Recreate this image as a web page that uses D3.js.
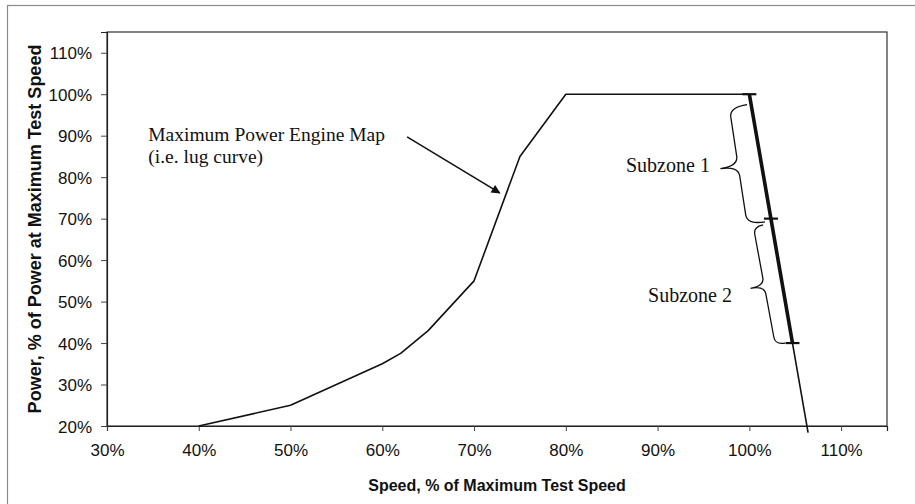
<!DOCTYPE html>
<html>
<head>
<meta charset="utf-8">
<script src="https://cdnjs.cloudflare.com/ajax/libs/d3/7.8.5/d3.min.js"></script>
<style>
body { margin: 0; background: #fff; }
.tick text { font-family: "Liberation Sans", Arial, sans-serif; font-size: 17px; fill: #111; }
.note { font-family: "Liberation Serif", "Times New Roman", serif; font-size: 20px; fill: #111; }
.title { font-family: "Liberation Sans", Arial, sans-serif; font-size: 16px; font-weight: bold; fill: #111; }
</style>
</head>
<body>
<div id="chart"></div>
<script>
// lug curve (maximum power engine map)
var lugSpeed = [40, 50, 60, 62, 65, 70, 75, 80, 100];
var lugPower = [20, 25, 35, 37.5, 43, 55, 85, 100, 100];

// governor line past 100% speed
var govSpeed = [100, 102.35, 104.7, 106.4];
var govPower = [100, 70, 40, 18.4];

// subzones: brace ends and label spots
var zoneNames = ['Subzone 1', 'Subzone 2'];
var braceTop = [[99.75, 97.5], [101.5, 68.5]];
var braceBottom = [[101.7, 69.2], [103.9, 40]];
var zoneLabelPos = [[95.7, 81.3], [98.1, 49.9]];

var xTicks = [30, 40, 50, 60, 70, 80, 90, 100, 110];
var yTicks = [20, 30, 40, 50, 60, 70, 80, 90, 100, 110];

var W = 915, H = 504;
var margin = {top: 32, right: 28, bottom: 78, left: 107};

var svg = d3.select('#chart').append('svg')
    .attr('width', W)
    .attr('height', H);

// outer frame of the chart
svg.append('rect')
    .attr('x', 7.5).attr('y', 5.5)
    .attr('width', W).attr('height', H)
    .attr('fill', 'none')
    .attr('stroke', '#8a8a8a')
    .attr('stroke-width', 1.2);

var x = d3.scaleLinear().domain([30, 115]).range([margin.left, W - margin.right]);
var y = d3.scaleLinear().domain([20, 115]).range([H - margin.bottom, margin.top]);
var pct = function(d) { return d + '%'; };

// plot area
svg.append('rect')
    .attr('x', x(30)).attr('y', y(115))
    .attr('width', x(115) - x(30)).attr('height', y(20) - y(115))
    .attr('fill', 'none')
    .attr('stroke', '#333')
    .attr('stroke-width', 1.2);

var gx = svg.append('g')
    .attr('transform', 'translate(0,' + y(20) + ')')
    .call(d3.axisBottom(x).tickValues(xTicks).tickFormat(pct).tickSize(5).tickPadding(13));
var gy = svg.append('g')
    .attr('transform', 'translate(' + x(30) + ',0)')
    .call(d3.axisLeft(y).tickValues(yTicks).tickFormat(pct).tickSize(6).tickPadding(9));
[gx, gy].forEach(function(g) {
    g.select('.domain').attr('stroke', '#222').attr('stroke-width', 1.2);
    g.selectAll('.tick line').attr('stroke', '#444');
});
gy.selectAll('.tick text').attr('dy', '0.36em');

// axis titles
svg.append('text')
    .attr('class', 'title')
    .attr('x', (x(30) + x(115)) / 2)
    .attr('y', 491)
    .attr('text-anchor', 'middle')
    .text('Speed, % of Maximum Test Speed');

svg.append('text')
    .attr('class', 'title')
    .style('font-size', '18px')
    .attr('transform', 'translate(41,' + (y(20) + y(115)) / 2 + ') rotate(-90)')
    .attr('text-anchor', 'middle')
    .text('Power, % of Power at Maximum Test Speed');

var line = d3.line()
    .x(function(d) { return x(d[0]); })
    .y(function(d) { return y(d[1]); });

var lug = d3.zip(lugSpeed, lugPower);
var gov = d3.zip(govSpeed, govPower);

svg.append('path')
    .datum(lug)
    .attr('d', line)
    .attr('fill', 'none')
    .attr('stroke', '#111')
    .attr('stroke-width', 1.6)
    .attr('stroke-linejoin', 'round');

// thin governor line all the way down
svg.append('path')
    .datum(gov)
    .attr('d', line)
    .attr('fill', 'none')
    .attr('stroke', '#111')
    .attr('stroke-width', 1.6);

// thick part over the two subzones
svg.append('path')
    .datum(gov.slice(0, 3))
    .attr('d', line)
    .attr('fill', 'none')
    .attr('stroke', '#111')
    .attr('stroke-width', 3.6);

// small marks at the zone limits
svg.selectAll('.zoneMark')
    .data(gov.slice(0, 3))
    .enter()
    .append('line')
    .attr('class', 'zoneMark')
    .attr('x1', function(d) { return x(d[0]) - 7; })
    .attr('x2', function(d) { return x(d[0]) + 7; })
    .attr('y1', function(d) { return y(d[1]); })
    .attr('y2', function(d) { return y(d[1]); })
    .attr('stroke', '#111')
    .attr('stroke-width', 2.2);

// curly braces
function brace(p0, p1, a, t, r) {
    var dx = p1[0] - p0[0], dy = p1[1] - p0[1];
    var L = Math.sqrt(dx * dx + dy * dy);
    var ux = dx / L, uy = dy / L;
    var nx = -uy, ny = ux;
    function pt(u, v) {
        return (p0[0] + u * ux + v * nx).toFixed(1) + ',' + (p0[1] + u * uy + v * ny).toFixed(1);
    }
    var m = L / 2;
    return 'M' + pt(0, 0) +
        'Q' + pt(0, a) + ' ' + pt(r, a) +
        'L' + pt(m - r, a) +
        'Q' + pt(m, a) + ' ' + pt(m, a + t) +
        'Q' + pt(m, a) + ' ' + pt(m + r, a) +
        'L' + pt(L - r, a) +
        'Q' + pt(L, a) + ' ' + pt(L, 0);
}

var braceSize = [[18, 18, 10], [10, 14, 8]];
svg.selectAll('.brace')
    .data(zoneNames)
    .enter()
    .append('path')
    .attr('class', 'brace')
    .attr('d', function(d, i) {
        var p0 = [x(braceTop[i][0]), y(braceTop[i][1])];
        var p1 = [x(braceBottom[i][0]), y(braceBottom[i][1])];
        return brace(p0, p1, braceSize[i][0], braceSize[i][1], braceSize[i][2]);
    })
    .attr('fill', 'none')
    .attr('stroke', '#111')
    .attr('stroke-width', 1.3);

svg.selectAll('.zoneLabel')
    .data(zoneNames)
    .enter()
    .append('text')
    .attr('class', 'note')
    .attr('x', function(d, i) { return x(zoneLabelPos[i][0]); })
    .attr('y', function(d, i) { return y(zoneLabelPos[i][1]); })
    .attr('text-anchor', 'end')
    .text(function(d) { return d; });

// lug curve callout
svg.append('defs').append('marker')
    .attr('id', 'head')
    .attr('viewBox', '0 0 10 10')
    .attr('refX', 9).attr('refY', 5)
    .attr('markerWidth', 11).attr('markerHeight', 9)
    .attr('markerUnits', 'userSpaceOnUse')
    .attr('orient', 'auto')
    .append('path')
    .attr('d', 'M0,0L10,5L0,10Z')
    .attr('fill', '#111');

svg.append('line')
    .attr('x1', x(62.7)).attr('y1', y(89.7))
    .attr('x2', x(72.8)).attr('y2', y(76.2))
    .attr('stroke', '#111')
    .attr('stroke-width', 1.6)
    .attr('marker-end', 'url(#head)');

var note = svg.append('text')
    .attr('class', 'note')
    .style('font-size', '19.5px')
    .attr('x', x(34.5))
    .attr('y', y(88.7));
note.append('tspan').text('Maximum Power Engine Map');
note.append('tspan').attr('x', x(34.5)).attr('dy', 22).text('(i.e. lug curve)');
</script>
</body>
</html>
